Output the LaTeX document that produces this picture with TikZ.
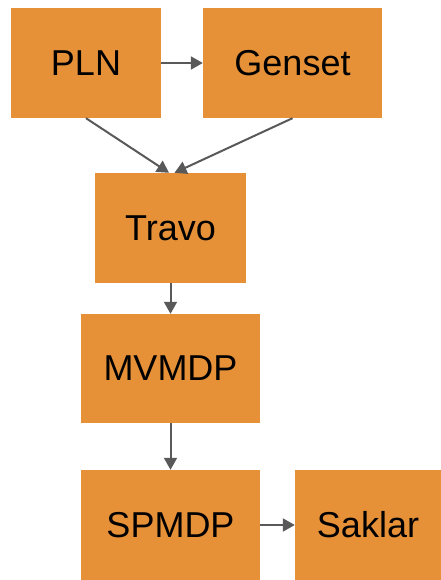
\documentclass[tikz,border=0pt]{standalone}
\usepackage{fontspec}
\setmainfont{Liberation Sans}
\usetikzlibrary{arrows.meta,calc}
\definecolor{boxorange}{HTML}{E69138}
\definecolor{arrowgray}{HTML}{595959}
\tikzset{
  unit/.style={fill=boxorange,inner sep=0pt,font=\fontsize{36}{40}\selectfont},
  flow/.style={draw=arrowgray,line width=2pt,-{Triangle[length=12pt,width=13pt]}}
}

\begin{document}
\begin{tikzpicture}[x=1pt,y=-1pt]
\useasboundingbox (0,0) rectangle (441,580);
\node[unit,minimum width=150pt,minimum height=110pt] (pln) at (86,63) {PLN};
\node[unit,minimum width=179pt,minimum height=110pt] (genset) at (292.5,63) {Genset};
\node[unit,minimum width=151pt,minimum height=110pt] (travo) at (170.5,228) {Travo};
\node[unit,minimum width=179pt,minimum height=109pt] (mvmdp) at (170.5,368.5) {MVMDP};
\node[unit,minimum width=179pt,minimum height=110pt] (spmdp) at (170.5,525) {SPMDP};
\node[unit,minimum width=146pt,minimum height=110pt] (saklar) at (368,525) {Saklar};

\draw[flow] (pln.east) -- (genset.west);
\draw[flow] (pln.south) -- ($(travo.north)+(-1.5,0)$);
\draw[flow] (genset.south) -- ($(travo.north)+(4,0)$);
\draw[flow] (travo.south) -- (mvmdp.north);
\draw[flow] (mvmdp.south) -- (spmdp.north);
\draw[flow] (spmdp.east) -- (saklar.west);
\end{tikzpicture}
\end{document}
